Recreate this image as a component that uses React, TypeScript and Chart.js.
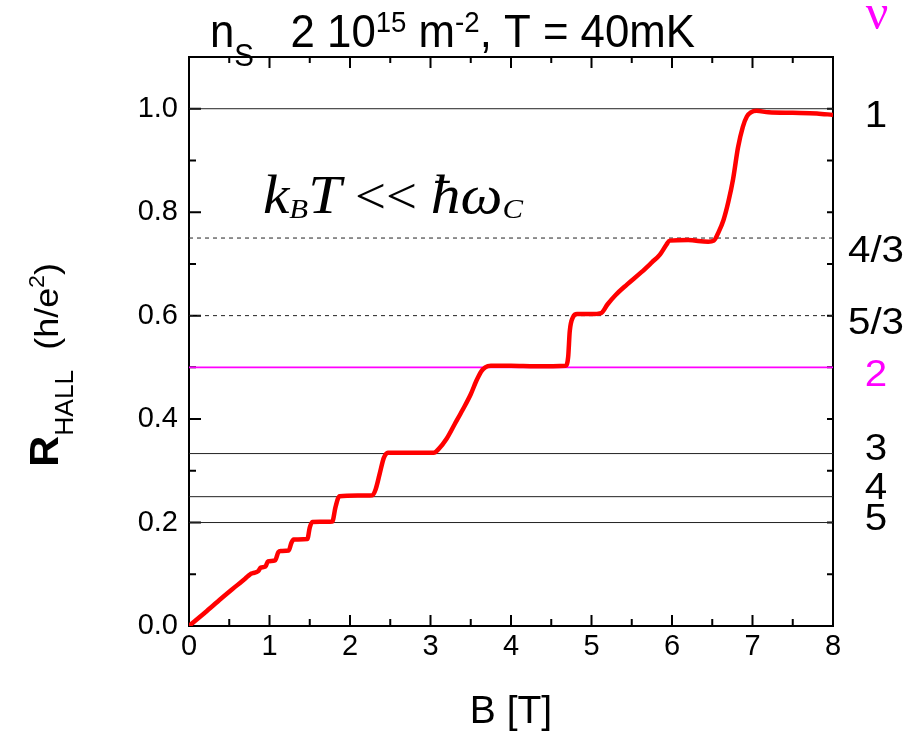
import React, { useEffect, useRef } from 'react';
import { Chart, registerables } from 'chart.js';

Chart.register(...registerables);

// Magnetic field B [T]
const fieldB = [
  0, 0.2, 0.4, 0.6, 0.7, 0.76, 0.79, 0.86, 0.89, 0.95, 0.98, 1.07, 1.11, 1.14,
  1.24, 1.27, 1.3, 1.47, 1.5, 1.53, 1.78, 1.82, 1.87, 2.28, 2.32, 2.37, 2.42,
  2.47, 3.04, 3.1, 3.2, 3.3, 3.4, 3.5, 3.57, 3.63, 3.68, 3.75, 4.0, 4.3, 4.68,
  4.71, 4.73, 4.77, 4.82, 5.0, 5.12, 5.2, 5.3, 5.44, 5.62, 5.75, 5.85, 5.93,
  5.97, 6.2, 6.45, 6.52, 6.58, 6.64, 6.7, 6.76, 6.82, 6.88, 6.93, 6.98, 7.05,
  7.2, 7.5, 7.8, 8.0,
];

// Hall resistance in units of h/e^2
const rHall = [
  0, 0.026, 0.053, 0.079, 0.092, 0.1, 0.102, 0.106, 0.113, 0.115, 0.125, 0.127,
  0.143, 0.145, 0.146, 0.16, 0.167, 0.168, 0.19, 0.201, 0.202, 0.23, 0.251,
  0.253, 0.265, 0.295, 0.325, 0.335, 0.335, 0.342, 0.362, 0.39, 0.418, 0.448,
  0.474, 0.492, 0.5, 0.503, 0.503, 0.502, 0.503, 0.52, 0.57, 0.597, 0.603,
  0.603, 0.605, 0.622, 0.64, 0.66, 0.684, 0.703, 0.718, 0.737, 0.745, 0.746,
  0.743, 0.745, 0.762, 0.785, 0.82, 0.865, 0.925, 0.965, 0.985, 0.993, 0.996,
  0.993, 0.992, 0.991, 0.988,
];

// Filling factors with reference lines at R = 1/nu
const nuValues = [1, 4 / 3, 5 / 3, 2, 3, 4, 5];
const nuLabels = ['1', '4/3', '5/3', '2', '3', '4', '5'];
const nuLabelShiftPx = [5, 11, 5, 6, -7, -11, -6];
const bRange = [0, 8];
const rRange = [0, 1.1];

const SANS = "'Liberation Sans', Arial, sans-serif";
const SERIF = "'Liberation Serif', 'Times New Roman', serif";
const MAGENTA = '#ff00ff';

type Run = { t: string; font: string; dy?: number; color?: string };

function drawRuns(ctx: CanvasRenderingContext2D, runs: Run[], x: number, y: number, targetWidth?: number) {
  ctx.save();
  let total = 0;
  for (const r of runs) {
    ctx.font = r.font;
    total += ctx.measureText(r.t).width;
  }
  const sx = targetWidth ? targetWidth / total : 1;
  ctx.translate(x, y);
  ctx.scale(sx, 1);
  ctx.textAlign = 'left';
  ctx.textBaseline = 'alphabetic';
  let cx = 0;
  for (const r of runs) {
    ctx.font = r.font;
    ctx.fillStyle = r.color || '#000';
    ctx.fillText(r.t, cx, r.dy || 0);
    cx += ctx.measureText(r.t).width;
  }
  ctx.restore();
}

const decorPlugin = {
  id: 'decor',
  beforeDatasetsDraw(chart: any) {
    const { ctx, chartArea: a, scales } = chart;
    const x = scales.x;
    const y = scales.y;
    ctx.save();
    ctx.strokeStyle = '#000';
    ctx.lineWidth = 2;
    ctx.strokeRect(a.left, a.top, a.right - a.left, a.bottom - a.top);
    ctx.lineWidth = 2;
    ctx.beginPath();
    for (let i = 0; i <= 16; i++) {
      const v = i * 0.5;
      const px = x.getPixelForValue(v);
      const major = i % 2 === 0;
      ctx.moveTo(px, a.bottom);
      ctx.lineTo(px, a.bottom - (major ? 11 : 7));
      ctx.moveTo(px, a.top);
      ctx.lineTo(px, a.top + (major ? 11 : 6));
    }
    for (let i = 0; i <= 11; i++) {
      const v = i * 0.1;
      const py = y.getPixelForValue(v);
      const major = i % 2 === 0;
      ctx.moveTo(a.left, py);
      ctx.lineTo(a.left + (major ? 12 : 7), py);
      ctx.moveTo(a.right, py);
      ctx.lineTo(a.right - 6, py);
    }
    ctx.stroke();
    ctx.restore();
  },
  afterDraw(chart: any) {
    const { ctx, scales } = chart;
    const y = scales.y;
    ctx.save();
    // Title
    drawRuns(
      ctx,
      [
        { t: 'n', font: `46px ${SANS}` },
        { t: 'S', font: `31px ${SANS}`, dy: 19 },
        { t: '   2 10', font: `46px ${SANS}` },
        { t: '15', font: `29px ${SANS}`, dy: -15 },
        { t: ' m', font: `46px ${SANS}` },
        { t: '-2', font: `29px ${SANS}`, dy: -15 },
        { t: ', T = 40mK', font: `46px ${SANS}` },
      ],
      210,
      47,
      485
    );
    // nu header
    ctx.font = `50px ${SERIF}`;
    ctx.fillStyle = MAGENTA;
    ctx.textAlign = 'center';
    ctx.textBaseline = 'alphabetic';
    ctx.fillText('\u03BD', 877, 29);
    // right labels
    nuValues.forEach((nu, i) => {
      const cy = y.getPixelForValue(1 / nu) + nuLabelShiftPx[i];
      ctx.save();
      ctx.translate(876, cy + 13);
      ctx.scale(1.12, 1);
      ctx.font = `36px ${SANS}`;
      ctx.fillStyle = nu === 2 ? MAGENTA : '#000';
      ctx.textAlign = 'center';
      ctx.textBaseline = 'alphabetic';
      ctx.fillText(nuLabels[i], 0, 0);
      ctx.restore();
    });
    // annotation
    drawRuns(
      ctx,
      [
        { t: 'k', font: `italic 54px ${SERIF}` },
        { t: 'B', font: `italic 28px ${SERIF}`, dy: 5 },
        { t: 'T', font: `italic 54px ${SERIF}` },
        { t: ' << ', font: `50px ${SERIF}` },
        { t: '\u0127', font: `italic 54px ${SERIF}` },
        { t: '\u03C9', font: `italic 54px ${SERIF}` },
        { t: 'C', font: `italic 28px ${SERIF}`, dy: 5 },
      ],
      263,
      213,
      260
    );
    // x title
    ctx.font = `39px ${SANS}`;
    ctx.fillStyle = '#000';
    ctx.textAlign = 'center';
    ctx.textBaseline = 'alphabetic';
    ctx.fillText('B [T]', 511, 723);
    // y title
    ctx.save();
    ctx.translate(58, 467);
    ctx.rotate(-Math.PI / 2);
    drawRuns(
      ctx,
      [
        { t: 'R', font: `bold 41px ${SANS}` },
        { t: 'HALL', font: `25px ${SANS}`, dy: 15 },
        { t: '  ', font: `34px ${SANS}` },
        { t: '(h/e', font: `34px ${SANS}` },
        { t: '2', font: `22px ${SANS}`, dy: -14 },
        { t: ')', font: `34px ${SANS}` },
      ],
      0,
      0,
      204
    );
    ctx.restore();
    ctx.restore();
  },
};

export default function App() {
  const canvasRef = useRef<HTMLCanvasElement | null>(null);

  useEffect(() => {
    const canvas = canvasRef.current;
    if (!canvas) return;
    const refSets = nuValues.map((nu) => {
      const frac = Math.abs(nu - Math.round(nu)) > 1e-6;
      const isTwo = nu === 2;
      return {
        type: 'line' as const,
        data: [
          { x: bRange[0], y: 1 / nu },
          { x: bRange[1], y: 1 / nu },
        ],
        borderColor: isTwo ? MAGENTA : '#222',
        borderWidth: isTwo ? 1.6 : 1,
        borderDash: frac ? [4, 4] : [],
        pointRadius: 0,
        fill: false,
        order: 2,
      };
    });
    const chart = new Chart(canvas, {
      type: 'line',
      data: {
        datasets: [
          ...refSets,
          {
            type: 'line' as const,
            data: fieldB.map((b, i) => ({ x: b, y: rHall[i] })),
            borderColor: '#ff0000',
            borderWidth: 4.5,
            pointRadius: 0,
            fill: false,
            cubicInterpolationMode: 'monotone',
            order: 1,
          },
        ] as any,
      },
      options: {
        animation: false,
        responsive: false,
        maintainAspectRatio: false,
        layout: { padding: { top: 57, right: 87, left: 0, bottom: 0 } },
        plugins: {
          legend: { display: false },
          tooltip: { enabled: false },
        },
        scales: {
          x: {
            type: 'linear',
            min: bRange[0],
            max: bRange[1],
            afterFit: (s: any) => {
              s.height = 107;
            },
            grid: { display: false, drawTicks: false },
            border: { display: false },
            ticks: {
              stepSize: 1,
              padding: 4,
              color: '#000',
              maxRotation: 0,
              autoSkip: false,
              font: { family: SANS, size: 29 },
            },
          },
          y: {
            type: 'linear',
            min: rRange[0],
            max: rRange[1],
            afterFit: (s: any) => {
              s.width = 189;
            },
            grid: { display: false, drawTicks: false },
            border: { display: false },
            ticks: {
              stepSize: 0.2,
              includeBounds: false,
              padding: 11,
              color: '#000',
              font: { family: SANS, size: 29 },
              callback: (v: any) => Number(v).toFixed(1),
            },
          },
        },
      },
      plugins: [decorPlugin],
    });
    return () => chart.destroy();
  }, []);

  return (
    <div style={{ position: 'fixed', left: 0, top: 0, width: 920, height: 733, background: '#fff' }}>
      <canvas ref={canvasRef} width={920} height={733} style={{ display: 'block', width: 920, height: 733 }} />
    </div>
  );
}
